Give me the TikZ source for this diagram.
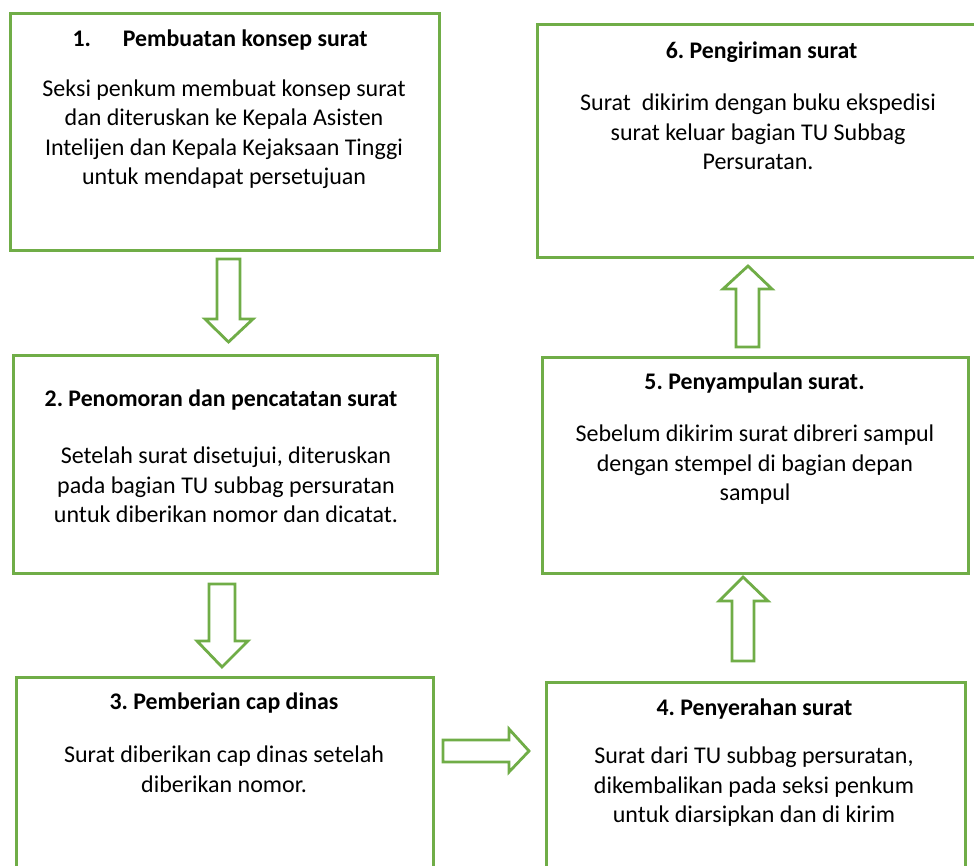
\documentclass[tikz,border=0pt]{standalone}
\usepackage{fontspec}
\setmainfont{Carlito}
\frenchspacing
\definecolor{boxgreen}{HTML}{70AD47}
\begin{document}
\begin{tikzpicture}[x=1pt,y=-1pt,
  boxframe/.style={draw=boxgreen,line width=3pt},
  blockarrow/.style={draw=boxgreen,line width=2.8pt,fill=white,line join=miter},
  titletext/.style={font=\fontsize{23.8}{29.5}\selectfont\bfseries,inner sep=0pt},
  bodytext/.style={font=\fontsize{24}{29.5}\selectfont,align=center,inner sep=0pt}]
\useasboundingbox (0,0) rectangle (974,865);
\clip (0,0) rectangle (974,865);
\fill[white] (0,0) rectangle (974,865);
% boxes
\draw[boxframe] (10,13) rectangle (439,250);
\draw[boxframe] (13,355) rectangle (437,573);
\draw[boxframe] (16,677) rectangle (433,880);
\draw[boxframe] (546,682) rectangle (965,880);
\draw[boxframe] (542,357) rectangle (968,573);
\draw[boxframe] (537,24) rectangle (990,257);
% texts
\node[titletext] (t1) at (220,40) {1.\hspace{32pt}Pembuatan konsep surat};
\node[bodytext] (b1) at (224,134) {Seksi penkum membuat konsep surat\\dan diteruskan ke Kepala Asisten\\Intelijen dan Kepala Kejaksaan Tinggi\\untuk mendapat persetujuan};
\node[titletext] (t2) at (221,400) {2. Penomoran dan pencatatan surat};
\node[bodytext] (b2) at (226,485) {Setelah surat disetujui, diteruskan\\pada bagian TU subbag persuratan\\untuk diberikan nomor dan dicatat.};
\node[titletext] (t3) at (224,703) {3. Pemberian cap dinas};
\node[bodytext] (b3) at (224,769) {Surat diberikan cap dinas setelah\\diberikan nomor.};
\node[titletext] (t4) at (754.5,709) {4. Penyerahan surat};
\node[bodytext] (b4) at (754,787) {Surat dari TU subbag persuratan,\\dikembalikan pada seksi penkum\\untuk diarsipkan dan di kirim};
\node[titletext] (t5) at (754.5,383) {5. Penyampulan surat.};
\node[bodytext] (b5) at (755,465) {Sebelum dikirim surat dibreri sampul\\dengan stempel di bagian depan\\sampul};
\node[titletext] (t6) at (761.5,52) {6. Pengiriman surat};
\node[bodytext] (b6) at (758,132) {Surat\ \ dikirim dengan buku ekspedisi\\surat keluar bagian TU Subbag\\Persuratan.};
% block arrows
\draw[blockarrow] (217,259) -- (240,259) -- (240,319) -- (253,319) -- (228.5,342) -- (205,319) -- (217,319) -- cycle;
\draw[blockarrow] (209,584) -- (235,584) -- (235,641) -- (248,641) -- (222,667) -- (197,641) -- (209,641) -- cycle;
\draw[blockarrow] (443,740) -- (509,740) -- (509,729) -- (529,751) -- (509,772) -- (509,762) -- (443,762) -- cycle;
\draw[blockarrow] (732,661) -- (732,601) -- (719,601) -- (743,577) -- (768,601) -- (754,601) -- (754,661) -- cycle;
\draw[blockarrow] (736,347) -- (736,289) -- (723,289) -- (748,266) -- (772,289) -- (759,289) -- (759,347) -- cycle;
\end{tikzpicture}
\end{document}
